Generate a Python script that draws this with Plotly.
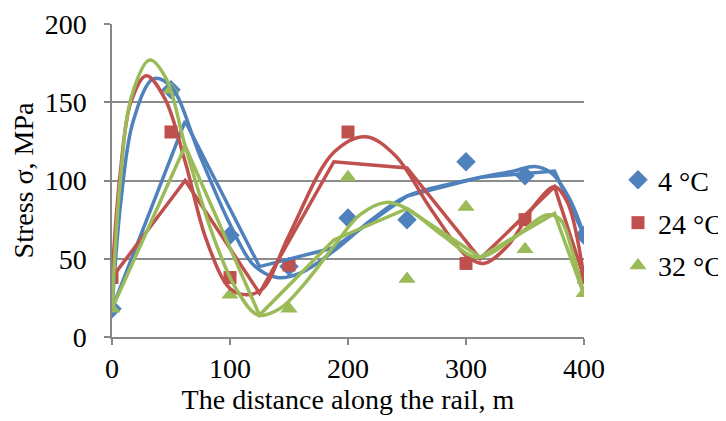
import plotly.graph_objects as go

# Measured points (markers)
x_pts = [0, 50, 100, 150, 200, 250, 300, 350, 400]
y_4c = [18, 158, 65, 45, 76, 75, 112, 103, 65]
y_24c = [38, 131, 38, 46, 131, None, 47, 75, 38]
y_32c = [18, 158, 27, 18, 102, 37, 83, 56, 28]

# Model curves: piecewise lines
x_poly = [0, 62, 125, 188, 250, 312, 375, 400]
y_poly_4c = [18, 138, 45, 57, 90, 102, 106, 65]
y_poly_24c = [38, 100, 28, 112, 108, 50, 96, 38]
y_poly_32c = [18, 122, 14, 62, 82, 51, 79, 27]

# Model curves: smoothed
x_s4 = [0, 8, 18, 35, 50, 75, 100, 120, 140, 160, 188, 220, 250, 300, 340, 358, 372, 388, 400]
y_s4 = [18, 90, 138, 165, 160, 115, 72, 46, 38, 41, 55, 75, 90, 100, 106, 109, 105, 88, 65]
x_s24 = [0, 7, 16, 29, 45, 62, 80, 100, 115, 128, 150, 188, 215, 240, 270, 300, 315, 335, 360, 375, 386, 400]
y_s24 = [38, 105, 150, 167, 152, 112, 62, 31, 27, 31, 65, 118, 128, 116, 82, 52, 47, 58, 86, 96, 86, 38]
x_s32 = [0, 7, 17, 32, 46, 62, 85, 105, 124, 142, 162, 188, 210, 232, 250, 280, 310, 340, 368, 380, 390, 400]
y_s32 = [18, 100, 155, 177, 165, 122, 66, 31, 14, 18, 33, 58, 78, 86, 82, 65, 51, 63, 78, 75, 55, 27]

BLUE = "#4F81BD"
RED = "#C0504D"
GREEN = "#9BBB59"
FONT = "Liberation Serif"
FS = 28

fig = go.Figure()

fig.add_trace(go.Scatter(x=x_pts, y=y_4c, mode="markers", name="4 °C", legendgroup="a",
                         marker=dict(symbol="diamond", size=15, color=BLUE)))
fig.add_trace(go.Scatter(x=x_pts, y=y_24c, mode="markers", name="24 °C", legendgroup="b",
                         marker=dict(symbol="square", size=13, color=RED)))
fig.add_trace(go.Scatter(x=x_pts, y=y_32c, mode="markers", name="32 °C", legendgroup="c",
                         marker=dict(symbol="triangle-up", size=15, color=GREEN)))

for xs, ys, c, shape in [
    (x_poly, y_poly_4c, BLUE, "linear"),
    (x_s4, y_s4, BLUE, "spline"),
    (x_poly, y_poly_24c, RED, "linear"),
    (x_s24, y_s24, RED, "spline"),
    (x_poly, y_poly_32c, GREEN, "linear"),
    (x_s32, y_s32, GREEN, "spline"),
]:
    fig.add_trace(go.Scatter(x=xs, y=ys, mode="lines", showlegend=False,
                             hoverinfo="skip",
                             line=dict(color=c, width=3.5, shape=shape, smoothing=1.0)))

fig.update_layout(
    width=718, height=413,
    margin=dict(l=103.5, r=142, t=16, b=84, autoexpand=False),
    paper_bgcolor="white", plot_bgcolor="white",
    font=dict(family=FONT, size=FS, color="black"),
    legend=dict(x=1.072, y=0.364, xanchor="left", yanchor="middle",
                font=dict(family=FONT, size=FS, color="black"),
                itemwidth=30, tracegroupgap=3.5, bgcolor="rgba(0,0,0,0)"),
)
fig.update_xaxes(range=[0, 400], dtick=100, tick0=0, showgrid=False, zeroline=False,
                 automargin=False,
                 showline=True, linecolor="#868686", linewidth=1.5,
                 ticks="outside", ticklen=6, tickcolor="#868686", tickwidth=1.5,
                 tickfont=dict(family=FONT, size=FS, color="black"),
                 title=dict(text="The distance along the rail, m", standoff=2,
                            font=dict(family=FONT, size=FS, color="black")))
fig.update_yaxes(range=[0, 200], dtick=50, tick0=0, showgrid=True, gridcolor="#8C8C8C",
                 gridwidth=1.5, zeroline=False, automargin=False,
                 showline=True, linecolor="#868686", linewidth=1.5,
                 ticks="outside", ticklen=6, tickcolor="#868686", tickwidth=1.5,
                 ticklabelstandoff=12,
                 tickfont=dict(family=FONT, size=FS, color="black"),
                 title=dict(text="Stress σ, MPa", standoff=4,
                            font=dict(family=FONT, size=FS, color="black")))

fig.write_html("out.html")
